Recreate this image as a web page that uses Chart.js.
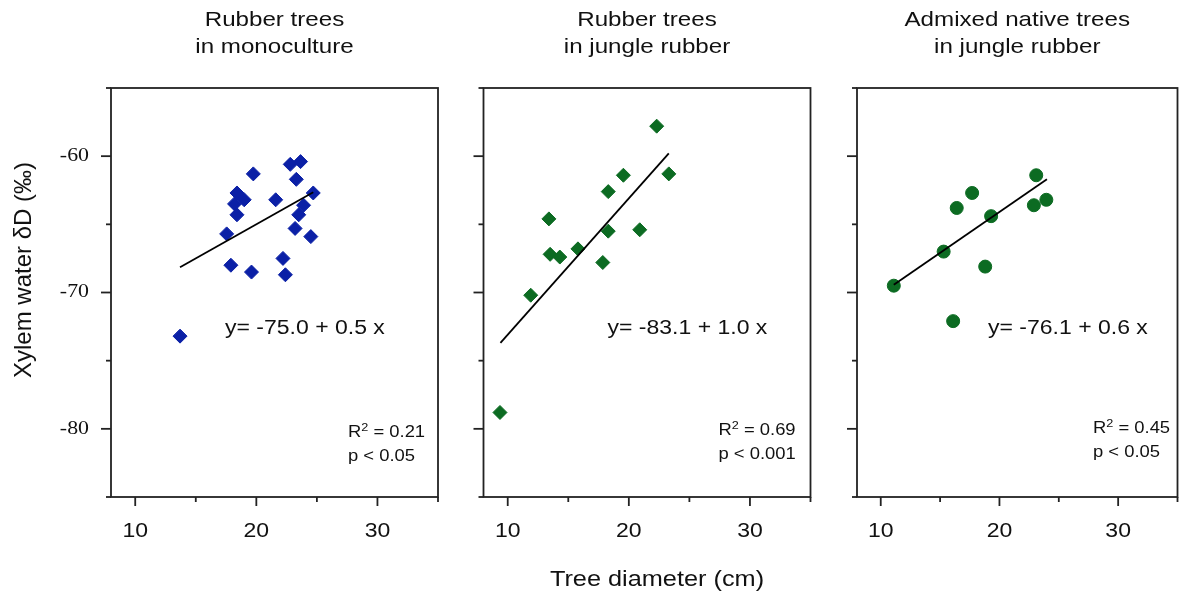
<!DOCTYPE html>
<html>
<head>
<meta charset="utf-8">
<title>Xylem water vs tree diameter</title>
<script src="https://cdn.jsdelivr.net/npm/chart.js@4.4.0/dist/chart.umd.min.js"></script>
<style>
  html, body { margin: 0; padding: 0; background: #fff; }
  #wrap { position: relative; width: 1185px; height: 601px; }
  #wrap canvas { position: absolute; left: 0; top: 0; }
</style>
</head>
<body>
<div id="wrap">
  <canvas id="panel0" width="1185" height="601"></canvas>
  <canvas id="panel1" width="1185" height="601"></canvas>
  <canvas id="panel2" width="1185" height="601"></canvas>
</div>
<script>
// rubber trees in monoculture
const monoDiameter = [13.7, 17.9, 19.6, 17.55, 18.4, 18.2, 18.4, 19.0, 19.75, 21.6,
                      22.2, 22.4, 22.8, 23.65, 23.3, 23.2, 23.5, 23.9, 24.7, 24.5];
const monoDeltaD   = [-73.2, -68.0, -68.5, -65.7, -64.3, -63.5, -62.7, -63.2, -61.3, -63.2,
                      -67.5, -68.7, -60.6, -60.4, -61.7, -65.3, -64.3, -63.6, -62.7, -65.9];

// rubber trees in jungle rubber
const jungleDiameter = [9.36, 11.9, 13.4, 13.5, 14.3, 15.8, 17.85, 18.3, 18.3, 19.55, 20.9, 22.3, 23.3];
const jungleDeltaD   = [-78.8, -70.2, -64.6, -67.2, -67.4, -66.8, -67.8, -65.5, -62.6, -61.4, -65.4, -57.8, -61.3];

// admixed native trees in jungle rubber
const nativeDiameter = [11.1, 15.3, 16.1, 16.4, 17.7, 18.8, 19.3, 22.9, 23.1, 23.95];
const nativeDeltaD   = [-69.5, -67.0, -72.1, -63.8, -62.7, -68.1, -64.4, -63.6, -61.4, -63.2];

const panelTitles = [
  ['Rubber trees', 'in monoculture'],
  ['Rubber trees', 'in jungle rubber'],
  ['Admixed native trees', 'in jungle rubber']
];
const fitIntercept = [-75.0, -83.1, -76.1];
const fitSlope = [0.5, 1.0, 0.6];
const fitRange = [[13.7, 24.7], [9.4, 23.3], [11.1, 24.0]];
const r2Text = ['0.21', '0.69', '0.45'];
const pText = ['p < 0.05', 'p < 0.001', 'p < 0.05'];

const xTicks = [10, 15, 20, 25, 30, 35];
const xTickLabels = ['10', '20', '30'];
const yTicks = [-85, -80, -75, -70, -65, -60, -55];
const yTickLabels = ['-60', '-70', '-80'];

const BLUE = '#0b20a6';
const GREEN = '#0c6b22';
const INK = '#222';
const SANS = '"Liberation Sans", Arial, sans-serif';
const SERIF = '"Liberation Serif", "Times New Roman", serif';
const STRETCH = 1.15;

// panel geometry on the page
const areaLeft = [111, 483.5, 857];
const areaWidth = 327;
const areaTop = 88;
const areaBottom = 497;

function text(ctx, str, x, y, align, font, sx) {
  ctx.save();
  ctx.font = font;
  ctx.fillStyle = '#111';
  ctx.textBaseline = 'middle';
  ctx.textAlign = align;
  ctx.translate(x, y);
  ctx.scale(sx || STRETCH, 1);
  ctx.fillText(str, 0, 0);
  ctx.restore();
}

function rSquared(ctx, value, x, y) {
  ctx.save();
  ctx.fillStyle = '#111';
  ctx.textBaseline = 'middle';
  ctx.textAlign = 'left';
  ctx.translate(x, y);
  ctx.scale(STRETCH, 1);
  ctx.font = '16px ' + SANS;
  ctx.fillText('R', 0, 0);
  let w = ctx.measureText('R').width;
  ctx.font = '11px ' + SANS;
  ctx.fillText('2', w, -5);
  w += ctx.measureText('2').width;
  ctx.font = '16px ' + SANS;
  ctx.fillText(' = ' + value, w, 0);
  ctx.restore();
}

const decorations = {
  id: 'decorations',
  afterDraw(chart, args, opts) {
    const ctx = chart.ctx;
    const xs = chart.scales.x, ys = chart.scales.y;
    const a = chart.chartArea;
    const i = opts.panel;

    ctx.save();
    ctx.strokeStyle = INK;
    ctx.lineWidth = 1.8;
    ctx.strokeRect(a.left, a.top, a.right - a.left, a.bottom - a.top);

    // y ticks point outward on the left of every panel
    yTicks.forEach(v => {
      const py = ys.getPixelForValue(v);
      const len = v % 10 === 0 ? 10 : 5;
      ctx.beginPath();
      ctx.moveTo(a.left - len, py);
      ctx.lineTo(a.left, py);
      ctx.stroke();
    });
    // x ticks below the box
    xTicks.forEach(v => {
      const px = xs.getPixelForValue(v);
      const len = v % 10 === 0 ? 9 : 5;
      ctx.beginPath();
      ctx.moveTo(px, a.bottom);
      ctx.lineTo(px, a.bottom + len);
      ctx.stroke();
    });
    ctx.restore();

    xTickLabels.forEach(l => {
      text(ctx, l, xs.getPixelForValue(+l), 531, 'center', '20px ' + SANS);
    });
    if (i === 0) {
      yTickLabels.forEach(l => {
        text(ctx, l, 89, ys.getPixelForValue(+l), 'right', '19px ' + SERIF);
      });
      // shared axis titles
      text(ctx, 'Tree diameter (cm)', 657, 580, 'center', '22px ' + SANS);
      ctx.save();
      ctx.translate(24, 270);
      ctx.rotate(-Math.PI / 2);
      ctx.font = '24px ' + SANS;
      ctx.fillStyle = '#111';
      ctx.textAlign = 'center';
      ctx.textBaseline = 'middle';
      ctx.fillText('Xylem water \u03b4D (\u2030)', 0, 0);
      ctx.restore();
    }

    const cx = (a.left + a.right) / 2;
    text(ctx, panelTitles[i][0], cx, 20, 'center', '21px ' + SANS);
    text(ctx, panelTitles[i][1], cx, 47, 'center', '21px ' + SANS);

    const eq = 'y= ' + fitIntercept[i].toFixed(1) + ' + ' + fitSlope[i].toFixed(1) + ' x';
    text(ctx, eq, a.left + [114, 124, 131][i], 328, 'left', '20px ' + SANS);

    const statX = a.left + [237, 235, 236][i];
    const statY = [433, 431, 429][i];
    rSquared(ctx, r2Text[i], statX, statY);
    text(ctx, pText[i], statX, statY + 24, 'left', '16px ' + SANS);
  }
};

function makePanel(i, diam, dD, color, shape, radius) {
  const points = diam.map((d, k) => ({ x: d, y: dD[k] }));
  const fit = fitRange[i].map(d => ({ x: d, y: fitIntercept[i] + fitSlope[i] * d }));
  const left = areaLeft[i];
  return new Chart(document.getElementById('panel' + i), {
    type: 'scatter',
    data: {
      datasets: [
        {
          type: 'line',
          data: fit,
          borderColor: '#000',
          borderWidth: 1.8,
          pointRadius: 0,
          fill: false,
          order: 0
        },
        {
          data: points,
          pointStyle: shape,
          pointRadius: radius,
          backgroundColor: color,
          borderColor: color,
          borderWidth: 1,
          order: 1
        }
      ]
    },
    options: {
      responsive: false,
      animation: false,
      events: [],
      layout: {
        padding: {
          left: left,
          right: 1185 - left - areaWidth,
          top: areaTop,
          bottom: 601 - areaBottom
        }
      },
      scales: {
        x: { type: 'linear', display: false, min: 8, max: 35 },
        y: { type: 'linear', display: false, min: -85, max: -55 }
      },
      plugins: {
        legend: { display: false },
        tooltip: { enabled: false },
        decorations: { panel: i }
      }
    },
    plugins: [decorations]
  });
}

makePanel(0, monoDiameter, monoDeltaD, BLUE, 'rectRot', 7);
makePanel(1, jungleDiameter, jungleDeltaD, GREEN, 'rectRot', 7);
makePanel(2, nativeDiameter, nativeDeltaD, GREEN, 'circle', 6.5);
</script>
</body>
</html>
